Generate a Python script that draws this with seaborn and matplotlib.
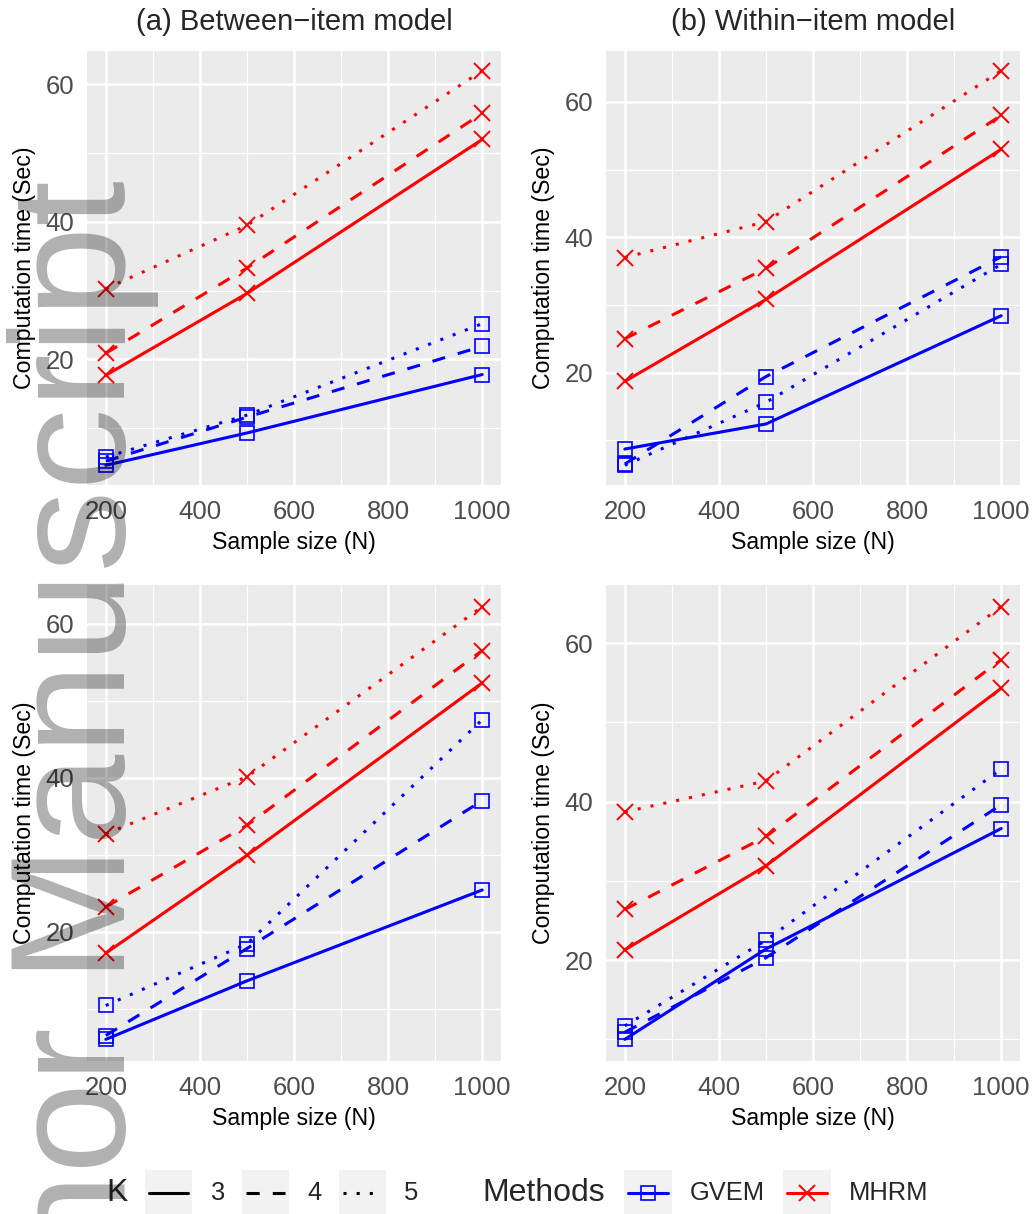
import pandas as pd
import matplotlib
matplotlib.use("Agg")
import matplotlib.pyplot as plt
import seaborn as sns
from matplotlib.patches import Rectangle
from matplotlib.ticker import MultipleLocator

# data (computation time in seconds)
sample_sizes = [200, 500, 1000]
k_levels = ["3", "4", "5"]
methods = ["GVEM", "MHRM"]
panel_titles = ["(a) Between\u2212item model", "(b) Within\u2212item model", "", ""]

# rows: K = 3, 4, 5 ; columns: N = 200, 500, 1000
top_between_gvem = [[4.6, 9.3, 17.8], [5.2, 11.6, 21.9], [5.8, 11.9, 25.2]]
top_between_mhrm = [[17.7, 29.6, 52.0], [20.9, 33.3, 55.8], [30.3, 39.5, 62.0]]
top_within_gvem = [[8.7, 12.4, 28.4], [6.5, 19.4, 37.1], [6.3, 15.6, 36.0]]
top_within_mhrm = [[18.7, 30.8, 53.0], [25.0, 35.4, 58.0], [37.0, 42.3, 64.6]]
bottom_between_gvem = [[6.0, 13.6, 25.4], [6.5, 17.8, 37.0], [10.4, 18.4, 47.5]]
bottom_between_mhrm = [[17.2, 29.9, 52.3], [23.2, 33.8, 56.5], [32.7, 40.1, 62.2]]
bottom_within_gvem = [[10.0, 21.4, 36.6], [10.9, 20.3, 39.6], [11.7, 22.5, 44.1]]
bottom_within_mhrm = [[21.3, 31.9, 54.3], [26.4, 35.6, 57.9], [38.7, 42.6, 64.6]]

panels = [(top_between_gvem, top_between_mhrm), (top_within_gvem, top_within_mhrm),
          (bottom_between_gvem, bottom_between_mhrm), (bottom_within_gvem, bottom_within_mhrm)]


def make_df(gvem, mhrm):
    rows = []
    for method, vals in zip(methods, [gvem, mhrm]):
        for k, series in zip(k_levels, vals):
            for n, t in zip(sample_sizes, series):
                rows.append({"N": n, "time": t, "Method": method, "K": k})
    return pd.DataFrame(rows)


colors = {"GVEM": "#0000FF", "MHRM": "#FF0000"}
dash_map = {"3": "", "4": (4.3, 4.3), "5": (1, 3.3)}
marker_map = {"GVEM": "s", "MHRM": "x"}
marker_size = {"GVEM": 9.5, "MHRM": 12}
marker_width = {"GVEM": 1.2, "MHRM": 1.4}

sns.set_theme(style="darkgrid")
plt.rcParams["font.family"] = ["Liberation Sans", "DejaVu Sans"]

W, H = 1034, 1214
fig = plt.figure(figsize=(W / 100, H / 100), dpi=100)

# axes boxes in pixels: left, top, right, bottom
boxes = [(87, 51, 501, 485), (606, 51, 1020, 485), (87, 585, 501, 1061), (606, 585, 1020, 1061)]

for i, ((gvem, mhrm), box) in enumerate(zip(panels, boxes)):
    l, t, r, b = box
    ax = fig.add_axes([l / W, 1 - b / H, (r - l) / W, (b - t) / H])
    d = make_df(gvem, mhrm)
    for m in methods:
        sub = d[d["Method"] == m]
        sns.lineplot(data=sub, x="N", y="time", style="K", color=colors[m],
                     dashes=dash_map, markers={k: marker_map[m] for k in k_levels},
                     lw=2.2, markersize=marker_size[m], markerfacecolor="none",
                     mew=marker_width[m], legend=False, ax=ax)
    for ln in ax.get_lines():
        ln.set_markeredgecolor(ln.get_color())

    ax.set_facecolor("#EBEBEB")
    ax.xaxis.set_major_locator(MultipleLocator(200))
    ax.xaxis.set_minor_locator(MultipleLocator(100))
    ax.yaxis.set_major_locator(MultipleLocator(20))
    ax.yaxis.set_minor_locator(MultipleLocator(10))
    ax.grid(which="major", color="white", lw=1.8)
    ax.grid(which="minor", color="white", lw=0.9)
    ax.set_axisbelow(True)
    ax.set_xlim(160, 1040)
    ax.margins(y=0.05)
    for s in ax.spines.values():
        s.set_visible(False)
    ax.tick_params(which="minor", length=0)
    ax.tick_params(which="major", length=5, width=1.1, color="#333333",
                   labelsize=18.5, labelcolor="#4D4D4D", pad=4)
    ax.tick_params(axis="x", pad=6)
    ax.set_xlabel("Sample size (N)", fontsize=16.7, color="black", labelpad=5)
    ax.set_ylabel("Computation time (Sec)", fontsize=16.7, color="black", labelpad=7)
    if panel_titles[i]:
        ax.set_title(panel_titles[i], fontsize=21, pad=15)

# legend drawn in its own strip at the bottom
lax = fig.add_axes([0, 0, 1, 50 / H])
lax.set_xlim(0, W)
lax.set_ylim(0, 50)
lax.axis("off")
yc = 21
lax.text(106, yc, "K", fontsize=23, ha="left", va="center")
for k, x0 in zip(k_levels, [145, 242, 339]):
    lax.add_patch(Rectangle((x0, 0), 47, 44, color="#F2F2F2", lw=0))
    ls = "-" if dash_map[k] == "" else (0, dash_map[k])
    lax.plot([x0 + 4, x0 + 43], [yc, yc], color="black", lw=2.2, ls=ls)
    lax.text(x0 + 65, yc, k, fontsize=18.4, ha="left", va="center")
lax.text(482, yc, "Methods", fontsize=23, ha="left", va="center")
for m, x0 in zip(methods, [624, 783]):
    lax.add_patch(Rectangle((x0, 0), 48, 44, color="#F2F2F2", lw=0))
    lax.plot([x0 + 4, x0 + 44], [yc, yc], color=colors[m], lw=2.2)
    lax.plot([x0 + 24], [yc], marker=marker_map[m], color=colors[m], mfc="none",
             ms=marker_size[m], mew=marker_width[m])
    lax.text(x0 + 66, yc, m, fontsize=18.4, ha="left", va="center")

# watermark
fig.text(125 / W, 1 - 180 / H, "Author Manuscript", rotation=90, rotation_mode="anchor",
         ha="right", va="baseline", fontsize=118, color="black", alpha=0.31)

fig.savefig("out.png", dpi=100)
